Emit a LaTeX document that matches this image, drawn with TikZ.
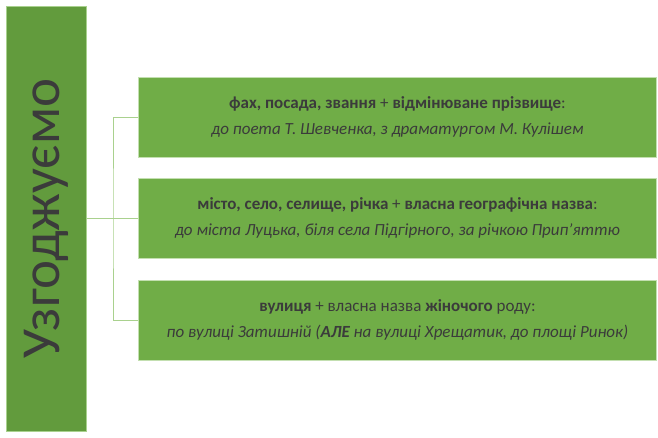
\documentclass[tikz,border=0pt]{standalone}
\usepackage{fontspec}
\setmainfont{Carlito}
\definecolor{darkgr}{HTML}{629B3D}
\definecolor{boxgr}{HTML}{70AD47}
\definecolor{linegr}{HTML}{A9D18E}
\definecolor{txt}{HTML}{3B3B3B}
\begin{document}
\begin{tikzpicture}[x=1pt,y=1pt,
  mainbox/.style={draw=linegr, line width=0.8pt, fill=darkgr, minimum width=80pt, minimum height=425pt, inner sep=0pt, text=txt},
  itembox/.style={draw=linegr!70!white, line width=0.8pt, fill=boxgr, minimum width=518pt, minimum height=80pt, inner sep=0pt, text=txt, align=center, font=\fontsize{17}{26}\selectfont},
  conn/.style={draw=linegr, line width=0.9pt}]
\useasboundingbox (0,0) rectangle (658,437);
\fill[white] (0,0) rectangle (658,437);
\node[mainbox] (main) at (46,218.5) {};
\node[rotate=90, text=txt, font=\fontsize{55}{55}\selectfont] (title) at (main.center) {Узгоджуємо};
\node[itembox] (b1) at (397.5,320) {\textbf{фах, посада, звання} + \textbf{відмінюване прізвище}:\\\textit{до поета Т. Шевченка, з драматургом М. Кулішем}};
\node[itembox] (b2) at (397.5,219) {\textbf{місто, село, селище, річка} + \textbf{власна географічна назва}:\\\textit{до міста Луцька, біля села Підгірного, за річкою Прип’яттю}};
\node[itembox] (b3) at (397.5,117) {\textbf{вулиця} + власна назва \textbf{жіночого} роду:\\\textit{по вулиці Затишній (\textbf{АЛЕ} на вулиці Хрещатик, до площі Ринок)}};
\coordinate (bx) at (113,219);
\draw[conn] (main.east |- b2.west) -- (b2.west);
\draw[conn] (b1.west) -| (bx) |- (b3.west);
\end{tikzpicture}
\end{document}
